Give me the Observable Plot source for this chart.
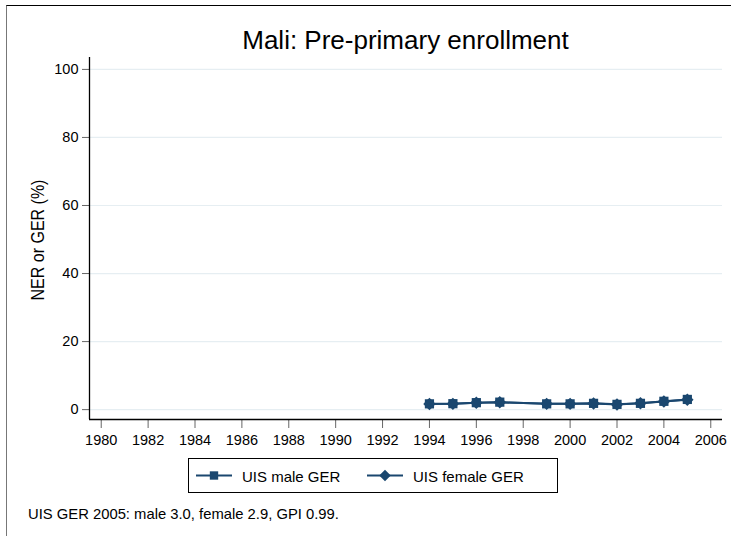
<!DOCTYPE html>
<html>
<head>
<meta charset="utf-8">
<script src="https://cdn.jsdelivr.net/npm/d3@7"></script>
<script src="https://cdn.jsdelivr.net/npm/@observablehq/plot@0.6"></script>
<style>
  body { margin: 0; background: #fff; font-family: Arial, "Liberation Sans", sans-serif; }
  #wrap { position: relative; width: 731px; height: 536px; overflow: hidden; }
  #chart { position: absolute; left: 0; top: 0; }
  .abs { position: absolute; white-space: nowrap; color: #000; line-height: 1; }
  #border { position: absolute; left: 6px; top: 5px; right: -2px; bottom: -2px; border-top: 1.5px solid #000; border-left: 1.5px solid #777; }
</style>
</head>
<body>
<div id="wrap">
  <div id="border"></div>
  <div id="chart"></div>
  <div class="abs" id="title" style="left:405.5px; top:26.5px; transform:translateX(-50%); font-size:26px;">Mali: Pre-primary enrollment</div>
  <div class="abs" id="ylab" style="left:38px; top:240px; transform:translate(-50%,-50%) rotate(-90deg) scaleY(1.1); font-size:16px;">NER or GER (%)</div>
  <div class="abs" id="legend" style="left:188px; top:458px; width:368px; height:33px; border:1px solid #000; background:#fff;"></div>
  <div class="abs" id="caption" style="left:28px; top:506.5px; font-size:14.8px;"></div>
</div>
<script>
const years = [1994, 1995, 1996, 1997, 1999, 2000, 2001, 2002, 2003, 2004, 2005];
const maleGER = [1.7, 1.75, 2.05, 2.2, 1.7, 1.7, 1.85, 1.55, 1.85, 2.45, 3.0];
const femaleGER = [1.65, 1.7, 2.0, 2.15, 1.7, 1.7, 1.8, 1.5, 1.85, 2.4, 2.9];
const seriesNames = ["UIS male GER", "UIS female GER"];
const xTicks = [1980, 1982, 1984, 1986, 1988, 1990, 1992, 1994, 1996, 1998, 2000, 2002, 2004, 2006];
const yTicks = [0, 20, 40, 60, 80, 100];
const captionText = "UIS GER 2005: male 3.0, female 2.9, GPI 0.99.";

const navy = "#1a476f";
const male = years.map((y, i) => ({year: y, v: maleGER[i]}));
const female = years.map((y, i) => ({year: y, v: femaleGER[i]}));

const chart = Plot.plot({
  width: 731,
  height: 536,
  marginLeft: 89,
  marginRight: 9,
  marginTop: 57,
  marginBottom: 117,
  style: {fontFamily: "Arial, 'Liberation Sans', sans-serif", fontSize: "14.5px", color: "#000", background: "transparent"},
  x: {domain: [1979.5, 2006.5], label: null},
  y: {domain: [-2.9, 103.5], label: null},
  marks: [
    Plot.ruleY(yTicks, {stroke: "#e6eef2", strokeWidth: 1.2}),
    Plot.axisX({ticks: xTicks, tickFormat: "d", tickSize: 9, tickPadding: 6, fontSize: 14.5, label: null, stroke: "#666", fill: "#000"}),
    Plot.axisY({ticks: yTicks, tickSize: 7, tickPadding: 4, fontSize: 14.5, label: null, stroke: "#666", fill: "#000"}),
    Plot.ruleX([1979.5], {stroke: "#000", strokeWidth: 1.3}),
    Plot.ruleY([-2.9], {stroke: "#000", strokeWidth: 1.3}),
    Plot.line(male, {x: "year", y: "v", stroke: navy, strokeWidth: 2}),
    Plot.line(female, {x: "year", y: "v", stroke: navy, strokeWidth: 2}),
    Plot.dot(male, {x: "year", y: "v", symbol: "square", r: 5.2, fill: navy, stroke: "none"}),
    Plot.dot(female, {x: "year", y: "v", symbol: "diamond2", r: 5.6, fill: navy, stroke: "none"})
  ]
});
document.getElementById("chart").appendChild(chart);

// legend
const lg = d3.select("#legend");
const items = [
  {name: seriesNames[0], symbol: d3.symbolSquare, size: 70, lx: 6, tx: 53},
  {name: seriesNames[1], symbol: d3.symbolDiamond2, size: 85, lx: 177, tx: 224}
];
items.forEach(it => {
  const s = lg.append("svg")
    .style("position", "absolute").style("left", it.lx + "px").style("top", "0px")
    .attr("width", 40).attr("height", 33);
  s.append("line").attr("x1", 1).attr("x2", 37).attr("y1", 16.5).attr("y2", 16.5)
    .attr("stroke", navy).attr("stroke-width", 2);
  s.append("path").attr("d", d3.symbol(it.symbol, it.size)()).attr("transform", "translate(19,16.5)").attr("fill", navy);
  lg.append("div").attr("class", "abs")
    .style("left", it.tx + "px").style("top", "9.5px").style("font-size", "15px")
    .text(it.name);
});
document.getElementById("caption").textContent = captionText;
</script>
</body>
</html>
